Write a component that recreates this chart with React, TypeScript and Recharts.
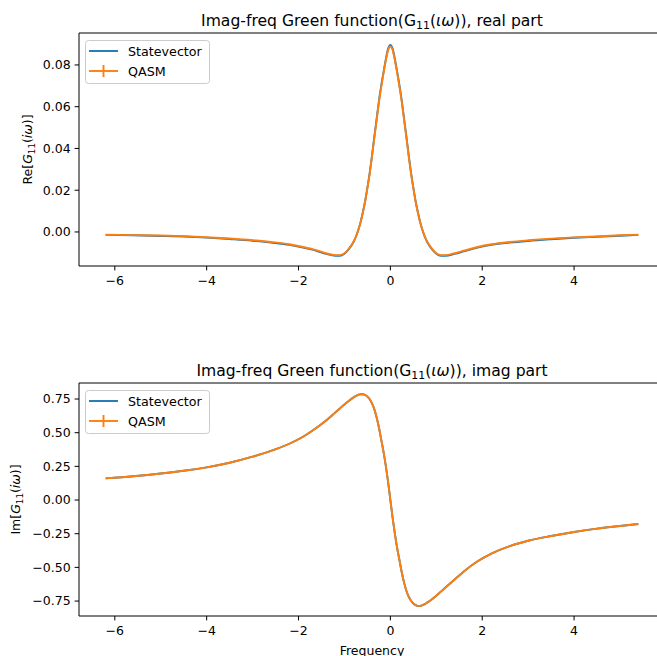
import React from 'react';
import { LineChart, Line, XAxis, YAxis, ReferenceLine } from 'recharts';

// frequency grid (denser near the peak)
const freq = [
  -6.2, -5.6, -5.0, -4.5, -4.0, -3.5, -3.0, -2.6, -2.2, -1.9, -1.6, -1.4, -1.2, -1.1, -1.0, -0.9,
  -0.8, -0.75, -0.7, -0.65, -0.6, -0.55, -0.5, -0.45, -0.4, -0.35, -0.3, -0.25, -0.2, -0.15, -0.1, -0.05,
  0,
  0.05, 0.1, 0.15, 0.2, 0.25, 0.3, 0.35, 0.4, 0.45, 0.5, 0.55, 0.6, 0.65, 0.7, 0.75, 0.8,
  0.9, 1.0, 1.1, 1.2, 1.4, 1.6, 1.9, 2.2, 2.6, 3.0, 3.5, 4.0, 4.5, 5.0, 5.4,
];

const reStatevector = [
  -0.0014, -0.0016, -0.0019, -0.0022, -0.0027, -0.0034, -0.0042, -0.0051, -0.0062, -0.0075, -0.0091, -0.0105, -0.0114, -0.0114, -0.0104, -0.0081,
  -0.0047, -0.0023, 0.0008, 0.0046, 0.0093, 0.0147, 0.0212, 0.0283, 0.0366, 0.0455, 0.054, 0.0626, 0.07, 0.0764, 0.0826, 0.0877,
  0.0896,
  0.0877, 0.0826, 0.0764, 0.07, 0.0626, 0.054, 0.0455, 0.0366, 0.0283, 0.0212, 0.0147, 0.0093, 0.0046, 0.0008, -0.0023, -0.0047,
  -0.0081, -0.0104, -0.0114, -0.0114, -0.0105, -0.0093, -0.0075, -0.0062, -0.0051, -0.0043, -0.0035, -0.0028, -0.0023, -0.0018, -0.0014,
];

const reQasm = [
  -0.0013, -0.0015, -0.0017, -0.002, -0.0025, -0.0031, -0.0039, -0.0048, -0.0059, -0.0072, -0.0088, -0.0102, -0.0111, -0.0111, -0.0102, -0.0079,
  -0.0046, -0.0022, 0.0008, 0.0045, 0.0092, 0.0145, 0.021, 0.028, 0.0362, 0.045, 0.0535, 0.062, 0.0693, 0.076, 0.082, 0.087,
  0.0888,
  0.087, 0.082, 0.076, 0.0693, 0.062, 0.0535, 0.045, 0.0362, 0.028, 0.021, 0.0145, 0.0092, 0.0045, 0.0008, -0.0022, -0.0046,
  -0.0079, -0.0102, -0.0111, -0.0111, -0.0102, -0.009, -0.0072, -0.0059, -0.0048, -0.004, -0.0032, -0.0026, -0.0021, -0.0016, -0.0013,
];

const imStatevector = [
  0.161, 0.177, 0.197, 0.217, 0.243, 0.277, 0.322, 0.365, 0.418, 0.47, 0.538, 0.59, 0.65, 0.68, 0.71, 0.738,
  0.762, 0.773, 0.781, 0.786, 0.786, 0.78, 0.768, 0.748, 0.718, 0.675, 0.615, 0.54, 0.45, 0.36, 0.255, 0.135,
  0.0,
  -0.135, -0.255, -0.36, -0.45, -0.54, -0.615, -0.675, -0.718, -0.748, -0.768, -0.78, -0.786, -0.786, -0.781, -0.773, -0.762,
  -0.738, -0.71, -0.68, -0.65, -0.59, -0.53, -0.455, -0.398, -0.342, -0.302, -0.267, -0.237, -0.212, -0.193, -0.178,
];

const imQasm = [
  0.161, 0.177, 0.197, 0.217, 0.243, 0.277, 0.322, 0.365, 0.418, 0.47, 0.538, 0.59, 0.65, 0.68, 0.71, 0.738,
  0.762, 0.773, 0.781, 0.786, 0.786, 0.78, 0.768, 0.748, 0.718, 0.675, 0.615, 0.54, 0.45, 0.36, 0.255, 0.135,
  0.0,
  -0.135, -0.255, -0.36, -0.45, -0.54, -0.615, -0.675, -0.718, -0.748, -0.768, -0.78, -0.786, -0.786, -0.781, -0.773, -0.762,
  -0.738, -0.71, -0.68, -0.65, -0.59, -0.53, -0.455, -0.398, -0.342, -0.302, -0.267, -0.237, -0.212, -0.193, -0.178,
];

const xTicks = [-6, -4, -2, 0, 2, 4];
const reTicks = [0, 0.02, 0.04, 0.06, 0.08];
const imTicks = [-0.75, -0.5, -0.25, 0, 0.25, 0.5, 0.75];

const BLUE = '#1f77b4';
const ORANGE = '#ff7f0e';
const FONT = 'DejaVu Sans';

const data = freq.map((f, i) => ({
  freq: f,
  reSv: reStatevector[i],
  reQasm: reQasm[i],
  imSv: imStatevector[i],
  imQasm: imQasm[i],
}));

const minus = (s: string) => s.replace('-', '\u2212');
const tickStyle = { fill: '#000', fontSize: 12.5, fontFamily: FONT };

function Panel({ svKey, qKey, domain, ticks }: { svKey: string; qKey: string; domain: number[]; ticks: number[] }) {
  return (
    <LineChart width={665} height={300} data={data} margin={{ top: 33, right: 0, bottom: 4, left: 0 }}>
      <XAxis
        type="number"
        dataKey="freq"
        domain={[-6.78, 5.98]}
        allowDataOverflow
        ticks={xTicks}
        interval={0}
        tickFormatter={(v: number) => minus(String(v))}
        height={30}
        tickSize={4.4}
        tickMargin={6}
        tick={tickStyle}
        axisLine={{ stroke: '#000', strokeWidth: 1 }}
        tickLine={{ stroke: '#000', strokeWidth: 1 }}
      />
      <YAxis
        type="number"
        domain={domain}
        allowDataOverflow
        ticks={ticks}
        interval={0}
        tickFormatter={(v: number) => minus(v.toFixed(2))}
        width={79}
        tickSize={4.4}
        tickMargin={4}
        tick={tickStyle}
        axisLine={{ stroke: '#000', strokeWidth: 1 }}
        tickLine={{ stroke: '#000', strokeWidth: 1 }}
      />
      <ReferenceLine y={domain[1]} stroke="#000" strokeWidth={1} />
      <Line type="monotone" dataKey={svKey} stroke={BLUE} strokeWidth={1.9} dot={false} isAnimationActive={false} />
      <Line type="monotone" dataKey={qKey} stroke={ORANGE} strokeWidth={1.9} dot={false} isAnimationActive={false} />
    </LineChart>
  );
}

function LegendBox({ x, y }: { x: number; y: number }) {
  return (
    <g transform={`translate(${x},${y})`}>
      <rect x={0.5} y={0.5} width={124} height={43} rx={3} fill="rgba(255,255,255,0.8)" stroke="#cccccc" />
      <line x1={4} x2={33} y1={11} y2={11} stroke={BLUE} strokeWidth={1.9} />
      <text x={43} y={11} dominantBaseline="central" fontSize={12.7} fontFamily={FONT} fill="#000">Statevector</text>
      <line x1={4} x2={33} y1={31} y2={31} stroke={ORANGE} strokeWidth={1.9} />
      <line x1={18.5} x2={18.5} y1={25} y2={37} stroke={ORANGE} strokeWidth={1.9} />
      <text x={43} y={31} dominantBaseline="central" fontSize={12.7} fontFamily={FONT} fill="#000">QASM</text>
    </g>
  );
}

function Title({ y, part }: { y: number; part: string }) {
  return (
    <text x={372} y={y} textAnchor="middle" fontSize={15.6} fontFamily={FONT} fill="#000">
      Imag-freq Green function(G<tspan fontSize={10.9} dy={3}>11</tspan>
      <tspan dy={-3}>(</tspan>
      <tspan fontStyle="italic">ιω</tspan>)), {part}
    </text>
  );
}

function YLabel({ x, y, head }: { x: number; y: number; head: string }) {
  return (
    <text transform={`translate(${x},${y}) rotate(-90)`} textAnchor="middle" fontSize={12.5} fontFamily={FONT} fill="#000">
      {head}[<tspan fontStyle="italic">G</tspan>
      <tspan fontSize={8.75} dy={2.5}>11</tspan>
      <tspan dy={-2.5}>(</tspan>
      <tspan fontStyle="italic">iω</tspan>)]
    </text>
  );
}

export default function App() {
  return (
    <div style={{ position: 'fixed', left: 0, top: 0, width: 657, height: 656, overflow: 'hidden', background: '#fff' }}>
      <div style={{ position: 'absolute', left: 0, top: 0 }}>
        <Panel svKey="reSv" qKey="reQasm" domain={[-0.0163, 0.0953]} ticks={reTicks} />
      </div>
      <div style={{ position: 'absolute', left: 0, top: 350 }}>
        <Panel svKey="imSv" qKey="imQasm" domain={[-0.861, 0.869]} ticks={imTicks} />
      </div>
      <svg width={657} height={656} style={{ position: 'absolute', left: 0, top: 0, pointerEvents: 'none' }}>
        <Title y={26} part="real part" />
        <Title y={376} part="imag part" />
        <YLabel x={32} y={149.5} head="Re" />
        <YLabel x={20} y={499.5} head="Im" />
        <text x={372} y={654.5} textAnchor="middle" fontSize={12.5} fontFamily={FONT} fill="#000">Frequency</text>
        <LegendBox x={85} y={40} />
        <LegendBox x={85} y={390} />
      </svg>
    </div>
  );
}
